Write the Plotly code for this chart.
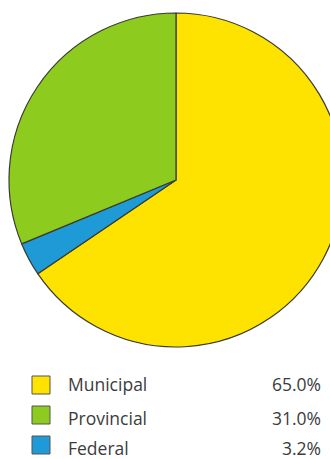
import plotly.graph_objects as go

labels = ["Municipal", "Provincial", "Federal"]
values = [65.0, 31.0, 3.2]
pct_labels = ["65.0%", "31.0%", "3.2%"]
colors = ["#FFE300", "#8DCB1F", "#1E9AD6"]

# pie drawing order (clockwise from 12 o'clock): Municipal, Federal, Provincial
pie_order = [0, 2, 1]

W, H = 360, 459

def px(x):
    return x / W

def py(y):
    return 1 - y / H

fig = go.Figure()
fig.add_trace(go.Pie(
    labels=[labels[i] for i in pie_order],
    values=[values[i] for i in pie_order],
    sort=False,
    direction="clockwise",
    rotation=0,
    textinfo="none",
    hoverinfo="label+percent",
    marker=dict(colors=[colors[i] for i in pie_order], line=dict(color="#3a3a30", width=1.2)),
    domain=dict(x=[px(9), px(343)], y=[py(347), py(13)]),
    showlegend=False,
))

square_y = [385, 415, 445]
text_y = [384, 418, 448]
shapes = []
annotations = []
for i, lab in enumerate(labels):
    cy = square_y[i]
    shapes.append(dict(type="rect", xref="paper", yref="paper",
                       x0=px(32), x1=px(50), y0=py(cy + 9), y1=py(cy - 9),
                       fillcolor=colors[i], line=dict(color="#555555", width=1)))
    annotations.append(dict(x=px(66), y=py(text_y[i]), xref="paper", yref="paper",
                            text=lab, showarrow=False, xanchor="left", yanchor="middle",
                            font=dict(family="Open Sans", size=17.5, color="#3c3c3c")))
    annotations.append(dict(x=px(323), y=py(text_y[i]), xref="paper", yref="paper",
                            text=pct_labels[i], showarrow=False, xanchor="right", yanchor="middle",
                            font=dict(family="Open Sans", size=17.5, color="#3c3c3c")))

fig.update_layout(
    width=W, height=H,
    margin=dict(l=0, r=0, t=0, b=0),
    paper_bgcolor="white",
    plot_bgcolor="white",
    shapes=shapes,
    annotations=annotations,
)

fig.write_html("out.html", config={"displayModeBar": False},
               post_script="document.body.style.margin='0';document.body.style.overflow='hidden';document.documentElement.style.overflow='hidden';")
